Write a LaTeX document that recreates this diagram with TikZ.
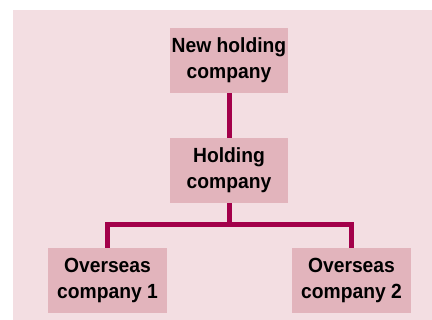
\documentclass[tikz,border=0pt]{standalone}
\usepackage{fontspec}
\setmainfont{Liberation Sans}[FakeStretch=0.94]
\usepackage{xcolor}
\usepackage{tikz}

\definecolor{bgpink}{RGB}{243,222,226}
\definecolor{boxpink}{RGB}{226,180,188}
\definecolor{linecrimson}{RGB}{163,0,74}

\tikzset{
  firm/.style={fill=boxpink, minimum width=118pt, minimum height=65pt,
    inner sep=0pt, align=center,
    font=\fontsize{20.5}{26}\selectfont\bfseries},
  link/.style={draw=linecrimson, line width=5pt}
}

\begin{document}
\begin{tikzpicture}[x=1pt, y=1pt]
    \useasboundingbox (0,0) rectangle (432,320);
    \fill[bgpink] (13,0) rectangle (432,310);
    \node[firm] (newhold) at (229,259.5) {New holding\\company};
    \node[firm] (hold) at (229,149.5) {Holding\\company};
    \node[firm, minimum width=119pt] (oversea1) at (107.5,39.5) {Overseas\\company 1};
    \node[firm, minimum width=119pt] (oversea2) at (351.5,39.5) {Overseas\\company 2};
    \coordinate (split) at (229,95);
    \draw[link] (newhold) -- (hold);
    \draw[link] (hold) -- (split);
    \draw[link] (oversea1) |- (split) -| (oversea2);
  \end{tikzpicture}
\end{document}
